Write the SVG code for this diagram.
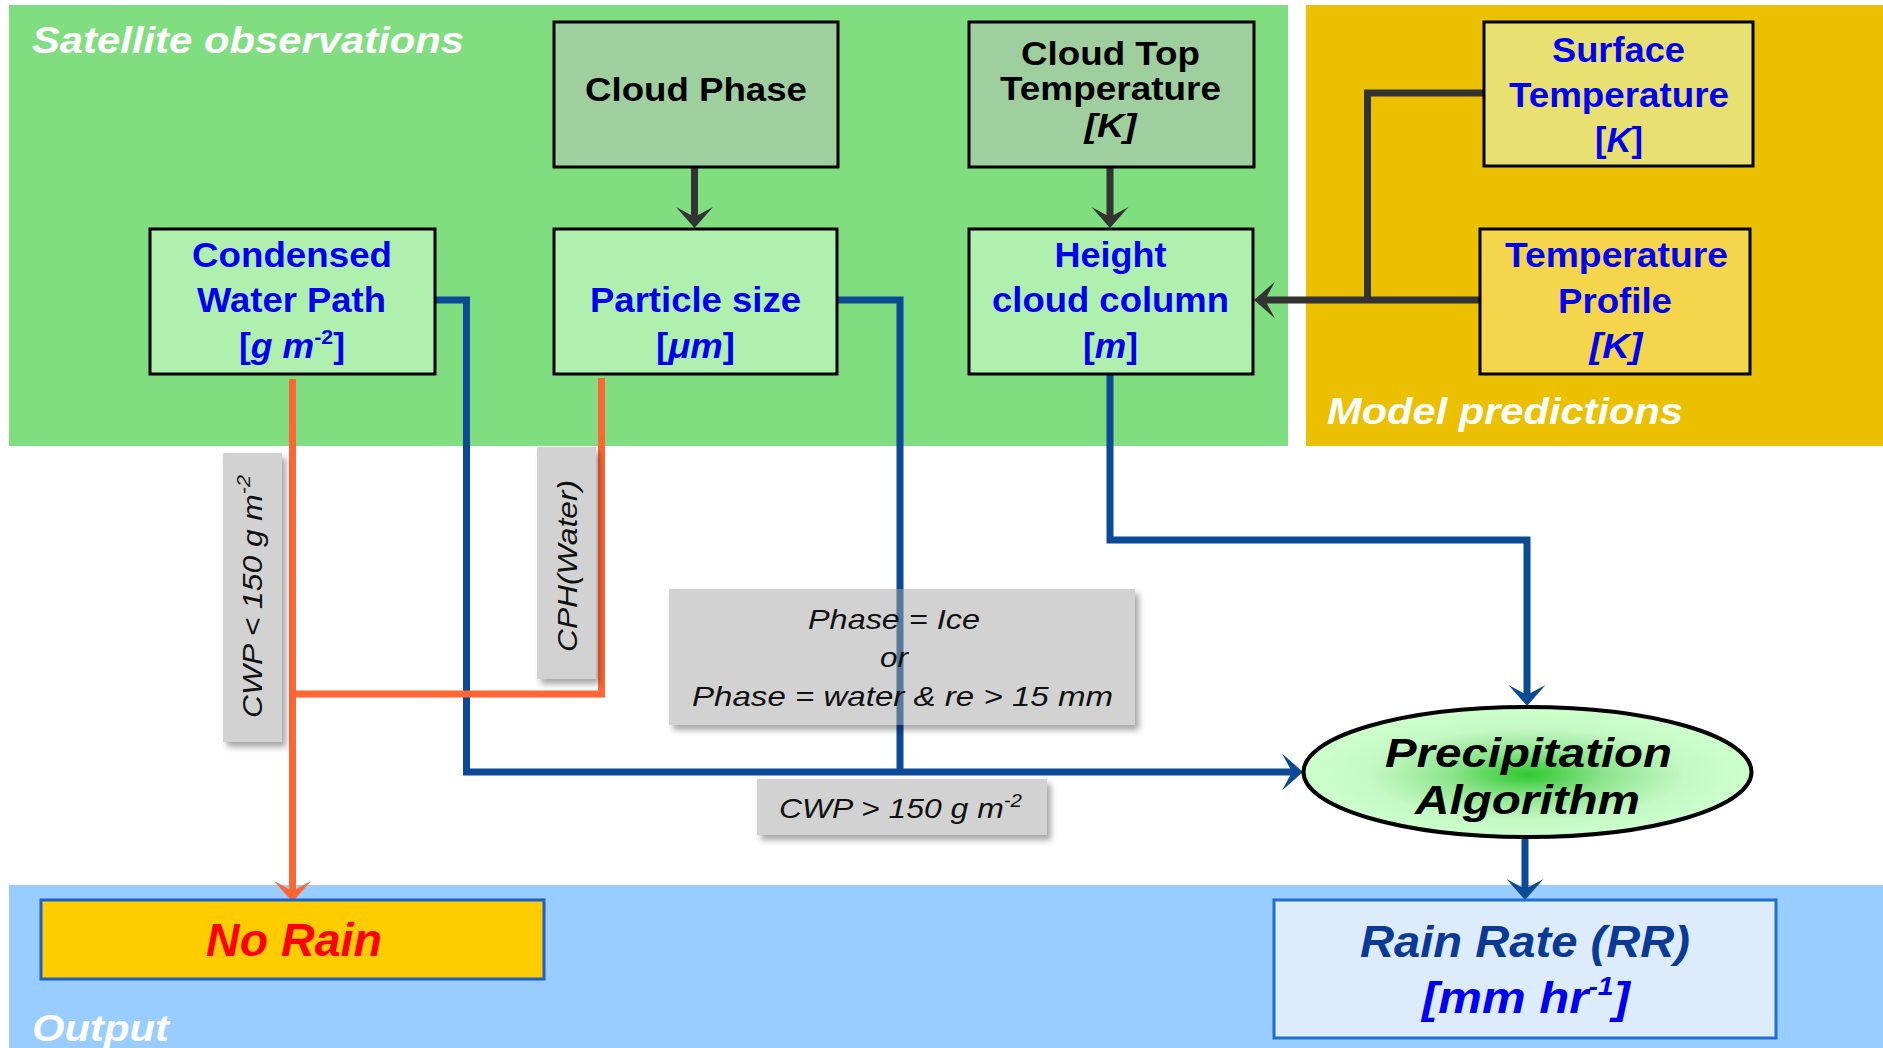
<svg xmlns="http://www.w3.org/2000/svg" width="1883" height="1048" viewBox="0 0 1883 1048">
  <style>
    text { font-family: "Liberation Sans", Arial, sans-serif; }
    .title { font-size: 36px; font-weight: bold; font-style: italic; fill: #ffffff; }
    .box { stroke: #000; stroke-width: 3; }
    .obs { fill: #9fcf9f; }
    .der { fill: #aff0af; }
    .nt { font-size: 35px; font-weight: bold; fill: #0000f0; text-anchor: middle; }
    .nk { font-size: 34px; font-weight: bold; fill: #000; text-anchor: middle; }
    .it { font-style: italic; }
    .cond { fill: #a6a6a6; fill-opacity: 0.5; }
    .ct { font-size: 28px; font-style: italic; fill: #111; }
    .dark { fill: none; stroke: #333333; stroke-width: 7; }
    .blue { fill: none; stroke: #0c4a96; stroke-width: 7; stroke-linejoin: miter; }
    .orange { fill: none; stroke: #ff6633; stroke-width: 7; stroke-linejoin: miter; }
  </style>
  <defs>
    <marker id="arDark" viewBox="-12 -20 24 40" markerWidth="24" markerHeight="40" refX="0" refY="0" orient="auto" markerUnits="userSpaceOnUse">
      <path d="M10,0 L-11,-18.5 L-1,0 L-11,18.5 Z" fill="#333333"/>
    </marker>
    <marker id="arBlue" viewBox="-12 -20 24 40" markerWidth="24" markerHeight="40" refX="0" refY="0" orient="auto" markerUnits="userSpaceOnUse">
      <path d="M10,0 L-11,-18.5 L-1,0 L-11,18.5 Z" fill="#0c4a96"/>
    </marker>
    <marker id="arOrange" viewBox="-12 -20 24 40" markerWidth="24" markerHeight="40" refX="0" refY="0" orient="auto" markerUnits="userSpaceOnUse">
      <path d="M10,0 L-11,-18.5 L-1,0 L-11,18.5 Z" fill="#ff6633"/>
    </marker>
    <radialGradient id="algoFill" cx="50%" cy="52%" r="50%">
      <stop offset="0" stop-color="#2ec82e"/>
      <stop offset="0.35" stop-color="#8fe58f"/>
      <stop offset="0.7" stop-color="#c4f8c4"/>
      <stop offset="1" stop-color="#ccffcc"/>
    </radialGradient>
    <!-- soft shadow cast only outside the (translucent) condition boxes -->
    <filter id="shadow" x="-20%" y="-20%" width="150%" height="150%">
      <feComponentTransfer in="SourceAlpha" result="solid">
        <feFuncA type="linear" slope="20"/>
      </feComponentTransfer>
      <feGaussianBlur in="solid" stdDeviation="3"/>
      <feOffset dx="4" dy="5" result="blur"/>
      <feFlood flood-color="#000" flood-opacity="0.35"/>
      <feComposite in2="blur" operator="in" result="sh"/>
      <feComposite in="sh" in2="solid" operator="out" result="shOut"/>
      <feMerge>
        <feMergeNode in="shOut"/>
        <feMergeNode in="SourceGraphic"/>
      </feMerge>
    </filter>
  </defs>

  <!-- background panels -->
  <g id="panels">
    <rect x="9" y="5" width="1279" height="441" fill="#80dd80"/>
    <rect x="1306" y="5" width="577" height="441" fill="#ebc000"/>
    <rect x="9" y="885" width="1874" height="163" fill="#99ccff"/>
    <text class="title" x="32" y="53" textLength="432" lengthAdjust="spacingAndGlyphs">Satellite observations</text>
    <text class="title" x="1327" y="424" textLength="356" lengthAdjust="spacingAndGlyphs">Model predictions</text>
    <text class="title" x="32" y="1041" textLength="137" lengthAdjust="spacingAndGlyphs">Output</text>
  </g>

  <!-- connectors -->
  <g id="connectors">
    <path class="dark" d="M694.5,167 V218" marker-end="url(#arDark)"/>
    <path class="dark" d="M1110,167 V218" marker-end="url(#arDark)"/>
    <path class="dark" d="M1484,93 H1367.5 V300"/>
    <path class="dark" d="M1480,300 H1264" marker-end="url(#arDark)"/>
    <path class="blue" d="M435,300 H466.5 V772 H1293" marker-end="url(#arBlue)"/>
    <path class="blue" d="M837,300 H900 V772"/>
    <path class="blue" d="M1110,374 V540 H1527 V696" marker-end="url(#arBlue)"/>
    <path class="blue" d="M1525,837 V890" marker-end="url(#arBlue)"/>
    <path class="orange" d="M292.5,379 V892" marker-end="url(#arOrange)"/>
    <path class="orange" d="M601.5,378 V694 H292.5"/>
  </g>

  <!-- satellite inputs -->
  <g id="cloud-phase">
    <rect class="box obs" x="554" y="22" width="284" height="145"/>
    <text class="nk" x="696" y="101" textLength="222" lengthAdjust="spacingAndGlyphs">Cloud Phase</text>
  </g>
  <g id="cloud-top-temperature">
    <rect class="box obs" x="969" y="22" width="285" height="145"/>
    <text class="nk" x="1110.5" y="65" font-size="32" textLength="179" lengthAdjust="spacingAndGlyphs">Cloud Top</text>
    <text class="nk" x="1110.5" y="100" font-size="32" textLength="221" lengthAdjust="spacingAndGlyphs">Temperature</text>
    <text class="nk it" x="1110.5" y="137" font-size="32" textLength="52" lengthAdjust="spacingAndGlyphs">[K]</text>
  </g>
  <g id="condensed-water-path">
    <rect class="box der" x="150" y="229" width="285" height="145"/>
    <text class="nt" x="292" y="267" textLength="200" lengthAdjust="spacingAndGlyphs">Condensed</text>
    <text class="nt" x="291.5" y="312" textLength="189" lengthAdjust="spacingAndGlyphs">Water Path</text>
    <text class="nt" x="292" y="358" textLength="106" lengthAdjust="spacingAndGlyphs">[<tspan class="it">g m</tspan><tspan font-size="21" dy="-14">-2</tspan><tspan dy="14">]</tspan></text>
  </g>
  <g id="particle-size">
    <rect class="box der" x="554" y="229" width="283" height="145"/>
    <text class="nt" x="695.5" y="312" textLength="211" lengthAdjust="spacingAndGlyphs">Particle size</text>
    <text class="nt" x="695.5" y="358" textLength="79" lengthAdjust="spacingAndGlyphs">[<tspan class="it">μm</tspan>]</text>
  </g>
  <g id="height-cloud-column">
    <rect class="box der" x="969" y="229" width="284" height="145"/>
    <text class="nt" x="1110.5" y="267" textLength="112" lengthAdjust="spacingAndGlyphs">Height</text>
    <text class="nt" x="1110.5" y="312" textLength="237" lengthAdjust="spacingAndGlyphs">cloud column</text>
    <text class="nt" x="1110.5" y="358" textLength="55" lengthAdjust="spacingAndGlyphs">[<tspan class="it">m</tspan>]</text>
  </g>

  <!-- model inputs -->
  <g id="surface-temperature">
    <rect class="box" x="1484" y="22" width="269" height="144" fill="#e8e070"/>
    <text class="nt" x="1618.5" y="62" textLength="133" lengthAdjust="spacingAndGlyphs">Surface</text>
    <text class="nt" x="1619" y="107" textLength="220" lengthAdjust="spacingAndGlyphs">Temperature</text>
    <text class="nt" x="1619" y="152" textLength="48" lengthAdjust="spacingAndGlyphs">[<tspan class="it">K</tspan>]</text>
  </g>
  <g id="temperature-profile">
    <rect class="box" x="1480" y="229" width="270" height="145" fill="#f5d54c"/>
    <text class="nt" x="1616.5" y="267" textLength="223" lengthAdjust="spacingAndGlyphs">Temperature</text>
    <text class="nt" x="1615" y="313" textLength="114" lengthAdjust="spacingAndGlyphs">Profile</text>
    <text class="nt it" x="1616" y="358" textLength="53" lengthAdjust="spacingAndGlyphs">[K]</text>
  </g>

  <!-- algorithm -->
  <g id="precipitation-algorithm">
    <ellipse cx="1527.5" cy="772" rx="224" ry="65" fill="url(#algoFill)" stroke="#000" stroke-width="4"/>
    <text x="1528.5" y="767" font-size="40" font-weight="bold" font-style="italic" fill="#000" text-anchor="middle" textLength="287" lengthAdjust="spacingAndGlyphs">Precipitation</text>
    <text x="1527.5" y="814" font-size="40" font-weight="bold" font-style="italic" fill="#000" text-anchor="middle" textLength="225" lengthAdjust="spacingAndGlyphs">Algorithm</text>
  </g>

  <!-- outputs -->
  <g id="no-rain">
    <rect x="41" y="900" width="503" height="79" fill="#ffcc00" stroke="#1f5fcc" stroke-width="3"/>
    <text x="294" y="956" font-size="46" font-weight="bold" font-style="italic" fill="#ff0000" text-anchor="middle" textLength="176" lengthAdjust="spacingAndGlyphs">No Rain</text>
  </g>
  <g id="rain-rate">
    <rect x="1274" y="900" width="502" height="138" fill="#ddecfc" stroke="#1f6fd0" stroke-width="3"/>
    <text x="1525" y="957" font-size="45" font-weight="bold" font-style="italic" fill="#0a3a96" text-anchor="middle" textLength="330" lengthAdjust="spacingAndGlyphs">Rain Rate (RR)</text>
    <text x="1526" y="1013" font-size="45" font-weight="bold" font-style="italic" fill="#0000f0" text-anchor="middle" textLength="208" lengthAdjust="spacingAndGlyphs">[mm hr<tspan font-size="26" dy="-18">-1</tspan><tspan dy="18">]</tspan></text>
  </g>

  <!-- branch conditions -->
  <g id="cond-cwp-low">
    <rect class="cond" x="223" y="453" width="59" height="289" filter="url(#shadow)"/>
    <text class="ct" font-size="30" transform="translate(262,596.5) rotate(-90)" text-anchor="middle" textLength="243" lengthAdjust="spacingAndGlyphs">CWP &lt; 150 g m<tspan font-size="19" dy="-12">-2</tspan></text>
  </g>
  <g id="cond-cph-water">
    <rect class="cond" x="537" y="447" width="59" height="232" filter="url(#shadow)"/>
    <text class="ct" font-size="30" transform="translate(577,566) rotate(-90)" text-anchor="middle" textLength="172" lengthAdjust="spacingAndGlyphs">CPH(Water)</text>
  </g>
  <g id="cond-phase">
    <rect class="cond" x="669" y="589" width="466" height="136" filter="url(#shadow)"/>
    <text class="ct" x="894" y="629" text-anchor="middle" textLength="172" lengthAdjust="spacingAndGlyphs">Phase = Ice</text>
    <text class="ct" x="894" y="667" text-anchor="middle" textLength="28" lengthAdjust="spacingAndGlyphs">or</text>
    <text class="ct" x="902.5" y="706" text-anchor="middle" textLength="421" lengthAdjust="spacingAndGlyphs">Phase = water &amp; re &gt; 15 mm</text>
  </g>
  <g id="cond-cwp-high">
    <rect class="cond" x="757" y="779" width="290" height="56" filter="url(#shadow)"/>
    <text class="ct" x="779" y="818" textLength="243" lengthAdjust="spacingAndGlyphs">CWP &gt; 150 g m<tspan font-size="18" dy="-11">-2</tspan></text>
  </g>
</svg>
